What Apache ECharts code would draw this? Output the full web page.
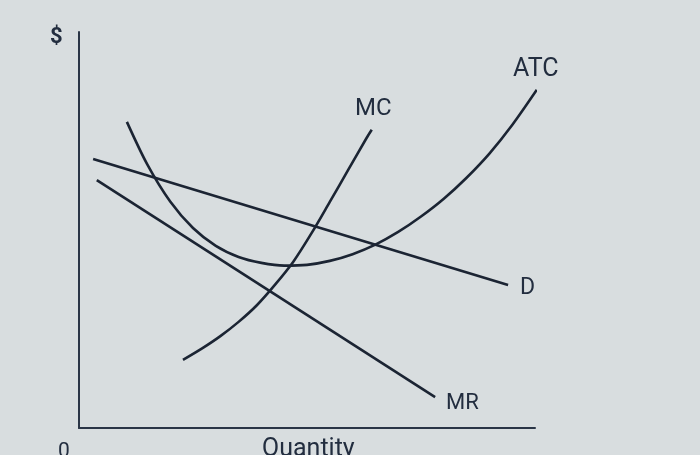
<!DOCTYPE html>
<html>
<head>
<meta charset="utf-8">
<script src="https://cdn.jsdelivr.net/npm/echarts@6/dist/echarts.min.js"></script>
<style>
html,body{margin:0;padding:0;background:#d8dddf;}
#c{width:700px;height:455px;}
</style>
</head>
<body>
<div id="c"></div>
<script>
// Data (quantity 0-100, price 0-100)
const demandQ = [3.1, 94.1];
const demandP = [67.9, 36.1];
const mrQ = [3.9, 78.1];
const mrP = [62.6, 7.8];
const mcQ = [22.8, 27, 31, 35, 39, 43, 47, 51, 55, 59, 63, 64.2];
const mcP = [17.2, 20.1, 23.2, 26.8, 31.0, 36.2, 42.0, 49.2, 57.1, 65.1, 73.1, 75.3];
const atcQ = [10.5, 15, 20, 25, 30, 35, 40, 45, 50, 55, 60, 65, 70, 75, 80, 85, 90, 95, 100.4];
const atcP = [77.3, 66.5, 57.2, 50.5, 46.0, 43.2, 41.7, 41.0, 41.2, 42.2, 43.9, 46.3, 49.5, 53.4, 57.9, 63.2, 69.3, 76.5, 85.4];

const zip = (a, b) => a.map((v, i) => [v, b[i]]);
const ink = '#1b2433';
const txt = '#222d3f';
const font = 'Roboto, "Noto Sans", sans-serif';

const chart = echarts.init(document.getElementById('c'));
const lineStyle = { color: ink, width: 2.6 };
const mk = (name, data, smooth) => ({
  name, type: 'line', data, smooth, showSymbol: false, clip: false,
  lineStyle, silent: true
});

chart.setOption({
  backgroundColor: '#d8dddf',
  animation: false,
  grid: { left: 79, right: 165, top: 32, bottom: 27 },
  xAxis: {
    type: 'value', min: 0, max: 100,
    axisLine: { show: true, lineStyle: { color: '#2a3546', width: 2 } },
    axisTick: { show: false }, axisLabel: { show: false }, splitLine: { show: false }
  },
  yAxis: {
    type: 'value', min: 0, max: 100,
    axisLine: { show: true, lineStyle: { color: '#2a3546', width: 2 } },
    axisTick: { show: false }, axisLabel: { show: false }, splitLine: { show: false }
  },
  series: [
    mk('D', zip(demandQ, demandP), false),
    mk('MR', zip(mrQ, mrP), false),
    mk('MC', zip(mcQ, mcP), 0.3),
    mk('ATC', zip(atcQ, atcP), 0.3)
  ],
  graphic: [
    { type: 'text', left: 50, top: 26, style: { text: '$', font: 'bold 22px ' + font, fill: txt } },
    { type: 'text', left: 58, top: 441, style: { text: '0', font: '21px ' + font, fill: txt } },
    { type: 'text', left: 262, top: 437, style: { text: 'Quantity', font: '25px ' + font, fill: txt } },
    { type: 'text', left: 355, top: 97, style: { text: 'MC', font: '24px ' + font, fill: txt } },
    { type: 'text', left: 513, top: 57, style: { text: 'ATC', font: '25px ' + font, fill: txt } },
    { type: 'text', left: 520, top: 277, style: { text: 'D', font: '23px ' + font, fill: txt } },
    { type: 'text', left: 446, top: 392, style: { text: 'MR', font: '22px ' + font, fill: txt } }
  ]
});
</script>
</body>
</html>
